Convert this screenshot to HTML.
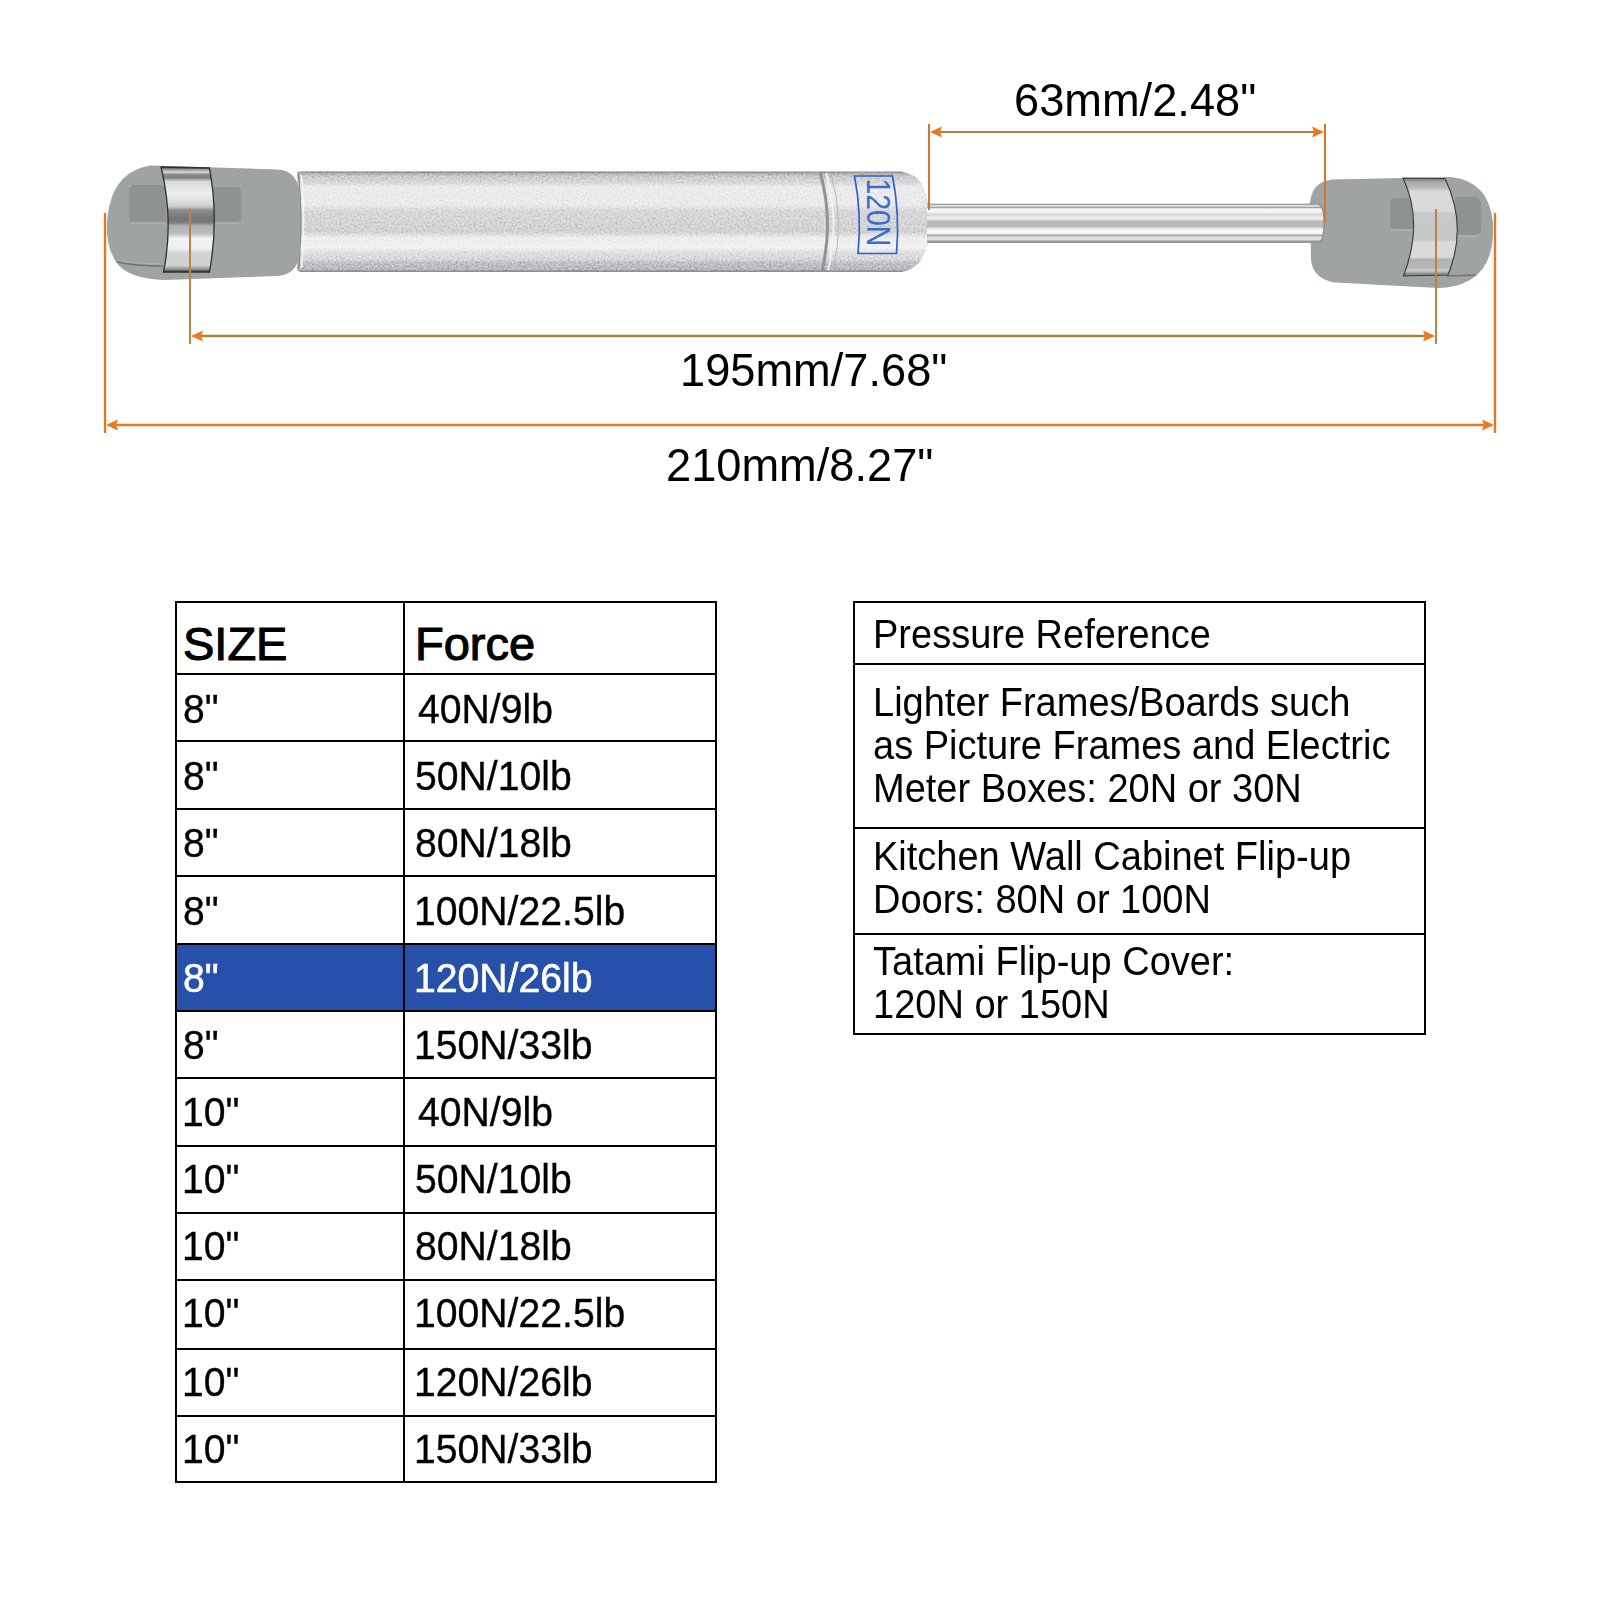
<!DOCTYPE html>
<html><head><meta charset="utf-8">
<style>
html,body{margin:0;padding:0;background:#fff;}
body{width:1600px;height:1600px;position:relative;overflow:hidden;font-family:"Liberation Sans",sans-serif;color:#000;}
.t{position:absolute;white-space:nowrap;font-size:41px;line-height:41px;transform:scaleX(0.955);transform-origin:0 0;-webkit-text-stroke:0.35px #000;}
.r{position:absolute;white-space:nowrap;font-size:40px;line-height:43px;transform:scaleX(0.95);transform-origin:0 0;}
.d{position:absolute;white-space:nowrap;font-size:47px;line-height:47px;transform:scaleX(0.962);transform-origin:0 0;}
.h{position:absolute;white-space:nowrap;font-size:47px;line-height:47px;-webkit-text-stroke:1.1px #000;}
.l{position:absolute;background:#000;}
svg{position:absolute;left:0;top:0;}
</style></head><body>
<svg id="art" width="1600" height="600" viewBox="0 0 1600 600">
<defs>
  <linearGradient id="gBody" x1="0" y1="171.8" x2="0" y2="271.5" gradientUnits="userSpaceOnUse">
    <stop offset="0" stop-color="#8a8a8c"/>
    <stop offset="0.02" stop-color="#b8b8ba"/>
    <stop offset="0.05" stop-color="#cdcdcf"/>
    <stop offset="0.11" stop-color="#d8d8da"/>
    <stop offset="0.15" stop-color="#ebebed"/>
    <stop offset="0.33" stop-color="#eaeaec"/>
    <stop offset="0.39" stop-color="#d8d8da"/>
    <stop offset="0.60" stop-color="#d2d2d4"/>
    <stop offset="0.66" stop-color="#eeeeef"/>
    <stop offset="0.76" stop-color="#f2f2f3"/>
    <stop offset="0.81" stop-color="#e0e0e2"/>
    <stop offset="0.88" stop-color="#d6d7d9"/>
    <stop offset="0.91" stop-color="#c0c2c6"/>
    <stop offset="0.98" stop-color="#b8babe"/>
    <stop offset="1" stop-color="#8a8a8c"/>
  </linearGradient>
  <linearGradient id="gRod" x1="0" y1="203.6" x2="0" y2="243" gradientUnits="userSpaceOnUse">
    <stop offset="0" stop-color="#a0a0a0"/>
    <stop offset="0.035" stop-color="#a8a8a8"/>
    <stop offset="0.05" stop-color="#e0e0e0"/>
    <stop offset="0.07" stop-color="#e0e0e0"/>
    <stop offset="0.09" stop-color="#9c9c9c"/>
    <stop offset="0.11" stop-color="#a8a8a8"/>
    <stop offset="0.13" stop-color="#f6f6f6"/>
    <stop offset="0.22" stop-color="#f6f6f6"/>
    <stop offset="0.26" stop-color="#d8d8d8"/>
    <stop offset="0.31" stop-color="#dcdcdc"/>
    <stop offset="0.36" stop-color="#f3f3f3"/>
    <stop offset="0.40" stop-color="#e8e8e8"/>
    <stop offset="0.44" stop-color="#bcbcbc"/>
    <stop offset="0.58" stop-color="#b6b6b6"/>
    <stop offset="0.64" stop-color="#ececec"/>
    <stop offset="0.70" stop-color="#fafafa"/>
    <stop offset="0.77" stop-color="#f0f0f0"/>
    <stop offset="0.80" stop-color="#9c9c9c"/>
    <stop offset="0.85" stop-color="#dddddd"/>
    <stop offset="0.92" stop-color="#e2e2e2"/>
    <stop offset="0.95" stop-color="#9a9a9a"/>
    <stop offset="1" stop-color="#959595"/>
  </linearGradient>
  <linearGradient id="gBand" x1="0" y1="167" x2="0" y2="272" gradientUnits="userSpaceOnUse">
    <stop offset="0" stop-color="#3a3c3e"/>
    <stop offset="0.025" stop-color="#9a9c9e"/>
    <stop offset="0.05" stop-color="#d8d9da"/>
    <stop offset="0.07" stop-color="#8a8c8e"/>
    <stop offset="0.10" stop-color="#7c7e80"/>
    <stop offset="0.14" stop-color="#d8d9da"/>
    <stop offset="0.25" stop-color="#eeeeef"/>
    <stop offset="0.33" stop-color="#dedfe0"/>
    <stop offset="0.38" stop-color="#c8c9ca"/>
    <stop offset="0.41" stop-color="#8a8c8e"/>
    <stop offset="0.50" stop-color="#727476"/>
    <stop offset="0.53" stop-color="#7c7e80"/>
    <stop offset="0.56" stop-color="#b0b2b4"/>
    <stop offset="0.63" stop-color="#b8babc"/>
    <stop offset="0.68" stop-color="#f2f2f3"/>
    <stop offset="0.78" stop-color="#eeeff0"/>
    <stop offset="0.82" stop-color="#d2d3d4"/>
    <stop offset="0.94" stop-color="#cfd0d1"/>
    <stop offset="0.975" stop-color="#8a8c8e"/>
    <stop offset="1" stop-color="#3a3c3e"/>
  </linearGradient>
  <linearGradient id="gBand2" x1="0" y1="178" x2="0" y2="276" gradientUnits="userSpaceOnUse">
    <stop offset="0" stop-color="#6a6c6e"/>
    <stop offset="0.04" stop-color="#a8aaab"/>
    <stop offset="0.09" stop-color="#b4b6b7"/>
    <stop offset="0.14" stop-color="#d8d9da"/>
    <stop offset="0.33" stop-color="#dadbdc"/>
    <stop offset="0.36" stop-color="#c8c9ca"/>
    <stop offset="0.63" stop-color="#c6c7c8"/>
    <stop offset="0.66" stop-color="#dcdcdd"/>
    <stop offset="0.81" stop-color="#d8d8d9"/>
    <stop offset="0.83" stop-color="#b0b2b3"/>
    <stop offset="0.92" stop-color="#b4b6b7"/>
    <stop offset="0.94" stop-color="#d0d0d1"/>
    <stop offset="1" stop-color="#6a6c6e"/>
  </linearGradient>
  <filter id="grain" x="0" y="0" width="100%" height="100%" color-interpolation-filters="sRGB">
    <feTurbulence type="fractalNoise" baseFrequency="0.5" numOctaves="2" seed="5" result="n"/>
    <feColorMatrix in="n" type="matrix" values="1.15 0 0 0 -0.06  1.15 0 0 0 -0.06  1.15 0 0 0 -0.06  0 0 0 0 1" result="g"/>
    <feBlend in="g" in2="SourceGraphic" mode="soft-light" result="b"/>
    <feComposite in="b" in2="SourceGraphic" operator="in"/>
  </filter>
</defs>
<!-- body cylinder -->
<path id="bodyShape" d="M297,172 Q297,171.8 300,171.8 L903,172 Q929,176 929,221.5 Q929,267 903,271.5 L300,271.5 Q297,271.5 297,268 Z" fill="url(#gBody)" filter="url(#grain)"/>
<path d="M300,172 L903,172" stroke="#8e9093" stroke-width="1.2"/>
<path d="M300,271.3 L903,271.3" stroke="#8e9093" stroke-width="1.2"/>
<path d="M298.5,174 Q303,221 298.5,269" fill="none" stroke="#8a8c8f" stroke-width="1.5"/>
<path d="M301.5,175 Q306,221 301.5,268" fill="none" stroke="#f4f5f6" stroke-width="1.5"/>
<path d="M820,172 Q834,221 822,271" fill="none" stroke="#909295" stroke-width="3"/>
<path d="M826,173 Q840,221 828,270" fill="none" stroke="#f0f1f2" stroke-width="2"/>
<path d="M831,174 Q845,221 833,270" fill="none" stroke="#b4b6b9" stroke-width="1"/>
<!-- label -->
<path d="M854.5,176 L892.5,176 Q900,214 896.5,253.5 L858,253.5 Q862,214 854.5,176 Z" fill="none" stroke="#2f62c8" stroke-width="1.7"/>
<text x="0" y="0" transform="translate(866.5,178.5) rotate(90) scale(0.86,1)" font-family="Liberation Sans" font-size="33" fill="#3a6cd0">120N</text>
<!-- rod -->
<rect x="927" y="203.6" width="397" height="39.4" fill="url(#gRod)"/>
<!-- left cap -->
<path d="M151,165.5 L278,169.5 Q299,171 300,197 L300,250 Q299,274 278,276 L165,280 Q128,279 116,262 Q106,246 107,225 Q109,172 151,165.5 Z" fill="#9fa3a4"/>
<path d="M134,186 L165,186 L166.5,222 L134,222 Q129,222 129,217 L129,191 Q129,186 134,186 Z" fill="#8e9293"/>
<path d="M132,185.5 L162,185.5" stroke="#888c8d" stroke-width="1"/>
<path d="M131,223 L166,223" stroke="#b3b5b6" stroke-width="1.2"/>
<path d="M213,187 L236,187 Q241,187 241,192 L241,217 Q241,222 236,222 L214,222 Z" fill="#8e9293"/>
<path d="M214,223 L239,223" stroke="#b3b5b6" stroke-width="1.2"/>
<path d="M117,262 Q135,266 163,266" fill="none" stroke="#707274" stroke-width="1.5"/>
<path d="M117,260 Q135,264 163,264" fill="none" stroke="#b0b2b3" stroke-width="1"/>
<path d="M161,167 L209.5,168 Q219,220 209.5,272 L163.5,272 Q174,220 161,167 Z" fill="url(#gBand)" stroke="#2e3032" stroke-width="1.3"/>
<!-- right cap -->
<path d="M1332,179.5 L1451,177 Q1489,181 1493,223 Q1495,266 1470,280 Q1456,288 1438,288 L1335,282.5 Q1313,279 1311,260 L1310,204 Q1311,182 1332,179.5 Z" fill="#9fa3a4"/>
<path d="M1395,198 L1410,198 L1414,229 L1395,229 Q1390,229 1390,224 L1390,203 Q1390,198 1395,198 Z" fill="#8e9293"/>
<path d="M1390,230 L1413,230" stroke="#b3b7b8" stroke-width="1.2"/>
<path d="M1455,197 L1475,197 Q1481,198 1481,204 L1481,229 Q1481,235 1475,235 L1457,235 Z" fill="#8e9293"/>
<path d="M1457,236 L1479,236" stroke="#b3b7b8" stroke-width="1.2"/>
<path d="M1447,276 L1476,275" stroke="#707274" stroke-width="1.5"/>
<path d="M1403,178 L1445,178.5 Q1468,226 1448,275 L1403.5,276 Q1424,222 1403,178 Z" fill="url(#gBand2)" stroke="#3e4042" stroke-width="1.2"/>
<path d="M1308,203.6 L1318,203.6 Q1324,205 1324,223.3 Q1324,241.5 1318,243 L1308,243 Z" fill="url(#gRod)"/>
<path d="M1318,204 Q1324,206 1324,223.3 Q1324,241 1318,243" fill="none" stroke="#8a8c8e" stroke-width="1.2"/>
<!-- dimension lines -->
<g fill="none">
  <line x1="929" y1="124" x2="929" y2="210" stroke="#d2772c" stroke-width="2"/>
  <line x1="1325" y1="124" x2="1325" y2="223" stroke="#d2772c" stroke-width="2"/>
  <line x1="938" y1="132" x2="1316" y2="132" stroke="#aa824c" stroke-width="2.2"/>
  <line x1="190" y1="209" x2="190" y2="344" stroke="#bb8242" stroke-width="2"/>
  <line x1="1436" y1="209" x2="1436" y2="344" stroke="#bb8242" stroke-width="2"/>
  <line x1="198" y1="336" x2="1428" y2="336" stroke="#aa824c" stroke-width="2.4"/>
  <line x1="105" y1="213" x2="105" y2="433" stroke="#dc7a28" stroke-width="2.4"/>
  <line x1="1495" y1="213" x2="1495" y2="433" stroke="#dc7a28" stroke-width="2.4"/>
  <line x1="114" y1="425" x2="1486" y2="425" stroke="#e07a26" stroke-width="2.4"/>
</g>
<g fill="#f07818">
  <path d="M930,132 L942,126.5 L940,132 L942,137.5 Z"/>
  <path d="M1324,132 L1312,126.5 L1314,132 L1312,137.5 Z"/>
  <path d="M191,336 L203,330.5 L201,336 L203,341.5 Z"/>
  <path d="M1435,336 L1423,330.5 L1425,336 L1423,341.5 Z"/>
  <path d="M106,425 L118,419.5 L116,425 L118,430.5 Z"/>
  <path d="M1494,425 L1482,419.5 L1484,425 L1482,430.5 Z"/>
</g>
</svg>

<div class="d" id="dim63" style="left:1014px;top:76px;">63mm/2.48"</div>
<div class="d" id="dim195" style="left:680px;top:346px;">195mm/7.68"</div>
<div class="d" id="dim210" style="left:666px;top:441px;">210mm/8.27"</div>

<!-- left table lines -->
<div class="l" style="left:175px;top:601px;width:542px;height:2px"></div>
<div class="l" style="left:175px;top:673px;width:542px;height:2px"></div>
<div class="l" style="left:175px;top:740px;width:542px;height:2px"></div>
<div class="l" style="left:175px;top:808px;width:542px;height:2px"></div>
<div class="l" style="left:175px;top:875px;width:542px;height:2px"></div>
<div class="l" style="left:175px;top:943px;width:542px;height:2px"></div>
<div class="l" style="left:175px;top:1010px;width:542px;height:2px"></div>
<div class="l" style="left:175px;top:1077px;width:542px;height:2px"></div>
<div class="l" style="left:175px;top:1145px;width:542px;height:2px"></div>
<div class="l" style="left:175px;top:1212px;width:542px;height:2px"></div>
<div class="l" style="left:175px;top:1279px;width:542px;height:2px"></div>
<div class="l" style="left:175px;top:1348px;width:542px;height:2px"></div>
<div class="l" style="left:175px;top:1415px;width:542px;height:2px"></div>
<div class="l" style="left:175px;top:1481px;width:542px;height:2px"></div>
<div style="position:absolute;left:177px;top:945px;width:538px;height:65px;background:#2750ab"></div>
<div class="l" style="left:403px;top:943px;width:2px;height:69px"></div>
<div class="l" style="left:175px;top:601px;width:2px;height:882px"></div>
<div class="l" style="left:403px;top:601px;width:2px;height:882px"></div>
<div class="l" style="left:715px;top:601px;width:2px;height:882px"></div>

<div class="h" style="left:183px;top:620px;">SIZE</div>
<div class="h" style="left:415px;top:620px;">Force</div>

<div class="t" style="left:183px;top:689px;">8"</div>
<div class="t" style="left:183px;top:756px;">8"</div>
<div class="t" style="left:183px;top:823px;">8"</div>
<div class="t" style="left:183px;top:891px;">8"</div>
<div class="t" style="left:183px;top:958px;color:#fff;-webkit-text-stroke:0.6px #fff">8"</div>
<div class="t" style="left:183px;top:1025px;">8"</div>
<div class="t" style="left:182px;top:1092px;">10"</div>
<div class="t" style="left:182px;top:1159px;">10"</div>
<div class="t" style="left:182px;top:1226px;">10"</div>
<div class="t" style="left:182px;top:1293px;">10"</div>
<div class="t" style="left:182px;top:1362px;">10"</div>
<div class="t" style="left:182px;top:1429px;">10"</div>

<div class="t" style="left:418px;top:689px;">40N/9lb</div>
<div class="t" style="left:415px;top:756px;">50N/10lb</div>
<div class="t" style="left:415px;top:823px;">80N/18lb</div>
<div class="t" style="left:414px;top:891px;">100N/22.5lb</div>
<div class="t" style="left:414px;top:958px;color:#fff;-webkit-text-stroke:0.6px #fff">120N/26lb</div>
<div class="t" style="left:414px;top:1025px;">150N/33lb</div>
<div class="t" style="left:418px;top:1092px;">40N/9lb</div>
<div class="t" style="left:415px;top:1159px;">50N/10lb</div>
<div class="t" style="left:415px;top:1226px;">80N/18lb</div>
<div class="t" style="left:414px;top:1293px;">100N/22.5lb</div>
<div class="t" style="left:414px;top:1362px;">120N/26lb</div>
<div class="t" style="left:414px;top:1429px;">150N/33lb</div>

<!-- right table -->
<div class="l" style="left:853px;top:601px;width:573px;height:2px"></div>
<div class="l" style="left:853px;top:663px;width:573px;height:2px"></div>
<div class="l" style="left:853px;top:827px;width:573px;height:2px"></div>
<div class="l" style="left:853px;top:933px;width:573px;height:2px"></div>
<div class="l" style="left:853px;top:1033px;width:573px;height:2px"></div>
<div class="l" style="left:853px;top:601px;width:2px;height:434px"></div>
<div class="l" style="left:1424px;top:601px;width:2px;height:434px"></div>

<div class="r" style="left:873px;top:613px;">Pressure Reference</div>
<div class="r" style="left:873px;top:681px;line-height:43.1px">Lighter Frames/Boards such<br>as Picture Frames and Electric<br>Meter Boxes: 20N or 30N</div>
<div class="r" style="left:873px;top:835px;">Kitchen Wall Cabinet Flip-up<br>Doors: 80N or 100N</div>
<div class="r" style="left:873px;top:940px;line-height:42.5px">Tatami Flip-up Cover:<br>120N or 150N</div>
</body></html>
